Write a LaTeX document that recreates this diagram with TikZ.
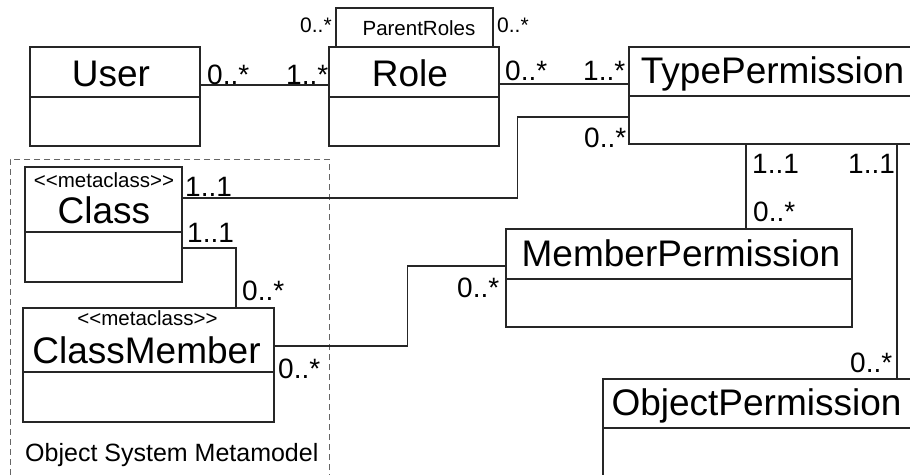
\documentclass[tikz,border=0pt]{standalone}
\usepackage{fontspec}
\setmainfont{Liberation Sans}
\tikzstyle{cS}=[rectangle,draw=black!85,line width=1.2pt,inner sep=0pt]
\tikzstyle{nS}=[inner sep=0pt,anchor=base,font=\fontsize{37}{40}\selectfont]
\tikzstyle{sS}=[inner sep=0pt,anchor=base,font=\fontsize{20.5}{22}\selectfont]
\tikzstyle{mS}=[inner sep=0pt,anchor=base west,font=\fontsize{28}{30}\selectfont]
\tikzstyle{mSS}=[inner sep=0pt,anchor=base west,font=\fontsize{21}{23}\selectfont]
\tikzstyle{eS}=[draw=black!85,line width=1.1pt]
\tikzstyle{pS}=[rectangle,draw=black!60,line width=0.9pt,dash pattern=on 6pt off 4pt,inner sep=0pt]

\begin{document}
\begin{tikzpicture}[x=1pt,y=-1pt]
                \useasboundingbox (0,0) rectangle (910,474);
                \clip (0,0) rectangle (910,474);
                % package frame
                \draw (169.5,320) node[pS,minimum width=319pt,minimum height=322pt] (pkg) {};
                \draw (25,461) node[mS,font=\fontsize{25}{27}\selectfont] (pkgT) {Object System Metamodel};
                % classes
                \draw (115,96.5) node[cS,minimum width=170pt,minimum height=99pt] (user) {};
                \draw (414,96.5) node[cS,minimum width=170pt,minimum height=99pt] (role) {};
                \draw (414.5,27.5) node[cS,minimum width=157pt,minimum height=39pt] (parent) {};
                \draw (772.5,95.5) node[cS,minimum width=287pt,minimum height=97pt] (tperm) {};
                \draw (679,278) node[cS,minimum width=346pt,minimum height=98pt] (mperm) {};
                \draw (757.5,441) node[cS,minimum width=309pt,minimum height=124pt] (operm) {};
                \draw (103.5,224.5) node[cS,minimum width=157pt,minimum height=115pt] (cls) {};
                \draw (148.5,365) node[cS,minimum width=251pt,minimum height=114pt] (cmember) {};
                \foreach \n/\y in {user/97,role/97,tperm/96,mperm/279,operm/428,cls/232,cmember/372}
                    \draw[eS] (\n.west |- 0,\y) -- (\n.east |- 0,\y);
                % names
                \draw (111,86) node[nS] (userT) {User};
                \draw (410,86) node[nS] (roleT) {Role};
                \draw (419,35) node[sS] (parentT) {ParentRoles};
                \draw (772.5,83) node[nS] (tpermT) {TypePermission};
                \draw (681,266) node[nS] (mpermT) {MemberPermission};
                \draw (756.5,415) node[nS] (opermT) {ObjectPermission};
                \draw (104,187) node[sS] (clsS) {<\kern0pt<metaclass>\kern0pt>};
                \draw (104,223) node[nS] (clsT) {Class};
                \draw (147.5,325) node[sS] (cmemberS) {<\kern0pt<metaclass>\kern0pt>};
                \draw (146.5,363) node[nS] (cmemberT) {ClassMember};
                % associations
                \draw[eS] ([yshift=11.5pt]user.east) -- ([yshift=11.5pt]user.east -| role.west);
                \draw[eS] ([yshift=12.5pt]role.east) -- ([yshift=12.5pt]role.east -| tperm.west);
                \draw[eS] ([yshift=26.5pt]cls.east) -| ([xshift=-111pt,yshift=-21.5pt]tperm.west) -- ([yshift=-21.5pt]tperm.west);
                \draw[eS] ([yshift=-23.5pt]cls.east) -| ([xshift=87.5pt]cmember.north);
                \draw[eS] ([yshift=19pt]cmember.east) -- ++(133,0) |- ([yshift=12pt]mperm.west);
                \draw[eS] ([xshift=-26.5pt]tperm.south) -- ([xshift=-26.5pt]tperm.south |- mperm.north);
                \draw[eS] ([xshift=124.5pt]tperm.south) -- ([xshift=124.5pt]tperm.south |- operm.north);
                % multiplicities
                \draw (300,32) node[mSS] (m1) {0..*};
                \draw (497,32) node[mSS] (m2) {0..*};
                \draw (207,84) node[mS] (m3) {0..*};
                \draw (286,84) node[mS] (m4) {1..*};
                \draw (505,80) node[mS] (m5) {0..*};
                \draw (583,80) node[mS] (m6) {1..*};
                \draw (584,147) node[mS] (m7) {0..*};
                \draw (752,173) node[mS] (m8) {1..1};
                \draw (753,221) node[mS] (m9) {0..*};
                \draw (848,173) node[mS] (m10) {1..1};
                \draw (850,372) node[mS] (m11) {0..*};
                \draw (185,196) node[mS] (m12) {1..1};
                \draw (187,242) node[mS] (m13) {1..1};
                \draw (242,300) node[mS] (m14) {0..*};
                \draw (278,378) node[mS] (m15) {0..*};
                \draw (457,297) node[mS] (m16) {0..*};
        \end{tikzpicture}
\end{document}
